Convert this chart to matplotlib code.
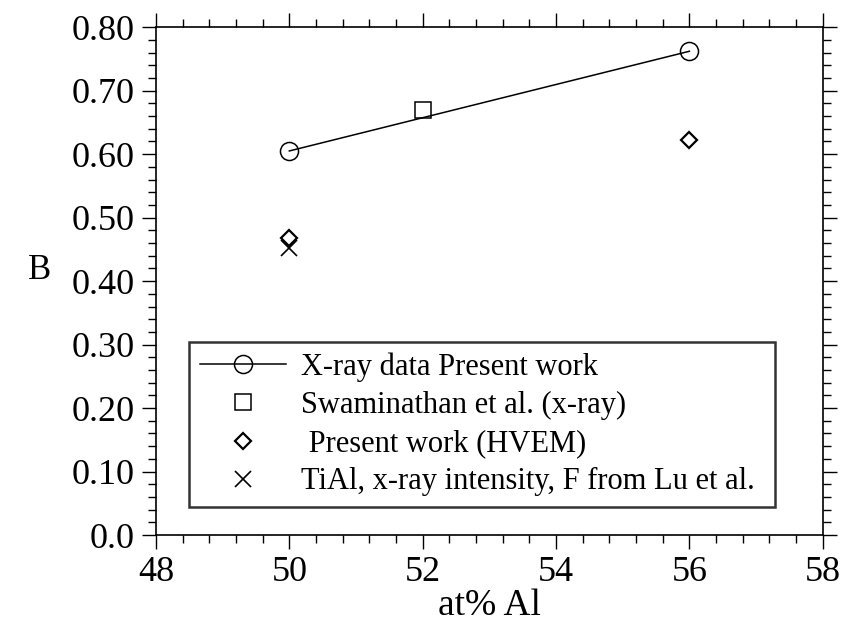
import matplotlib
matplotlib.use("Agg")
import matplotlib.pyplot as plt
from matplotlib.ticker import MultipleLocator, FuncFormatter

plt.rcParams['font.family'] = ['Liberation Serif', 'DejaVu Serif']

# data
xray_x = [50, 56]
xray_b = [0.605, 0.762]
swam_x = [52]
swam_b = [0.669]
hvem_x = [50, 56]
hvem_b = [0.468, 0.622]
lu_x = [50]
lu_b = [0.452]

fig = plt.figure(figsize=(8.43, 6.31), dpi=100)
ax = fig.add_axes([0.185, 0.152, 0.791, 0.805])

ax.plot(xray_x, xray_b, color="black", linewidth=1.1, marker="o", markersize=13,
        markerfacecolor="none", markeredgewidth=1.1, label="X-ray data Present work")
ax.plot(swam_x, swam_b, linestyle="none", marker="s", markersize=11.5, markerfacecolor="none",
        markeredgecolor="black", markeredgewidth=1.1, label="Swaminathan et al. (x-ray)")
ax.plot(hvem_x, hvem_b, linestyle="none", marker="D", markersize=8.5, markerfacecolor="none",
        markeredgecolor="black", markeredgewidth=1.6, label=" Present work (HVEM)")
ax.plot(lu_x, lu_b, linestyle="none", marker="x", markersize=12, markeredgecolor="black",
        markeredgewidth=1.2, label="TiAl, x-ray intensity, F from Lu et al.")

ax.set_xlim(48, 58)
ax.set_ylim(0, 0.80)
ax.xaxis.set_major_locator(MultipleLocator(2))
ax.xaxis.set_minor_locator(MultipleLocator(0.4))
ax.yaxis.set_major_locator(MultipleLocator(0.1))
ax.yaxis.set_minor_locator(MultipleLocator(0.02))
ax.yaxis.set_major_formatter(FuncFormatter(lambda v, p: "0.0" if abs(v) < 1e-9 else "%.2f" % v))

ax.tick_params(which="both", direction="out", top=True, right=True, width=1.0, labelsize=26)
ax.tick_params(which="major", length=10, pad=5)
ax.tick_params(which="minor", length=6)
for s in ax.spines.values():
    s.set_linewidth(1.2)

ax.set_xlabel("at% Al", fontsize=27, labelpad=0)
ax.set_ylabel("B", fontsize=25, rotation=0, va="center", ha="center")
ax.yaxis.set_label_coords(-0.175, 0.52)

leg = ax.legend(loc="lower left", bbox_to_anchor=(0.05, 0.055, 0.878, 0.355), mode="expand",
                fontsize=22, frameon=True, fancybox=False, edgecolor="black",
                handlelength=2.8, handletextpad=0.5, borderpad=0.35, borderaxespad=0,
                labelspacing=0.3)
leg.get_frame().set_linewidth(1.8)

fig.savefig("out.png", dpi=100)
